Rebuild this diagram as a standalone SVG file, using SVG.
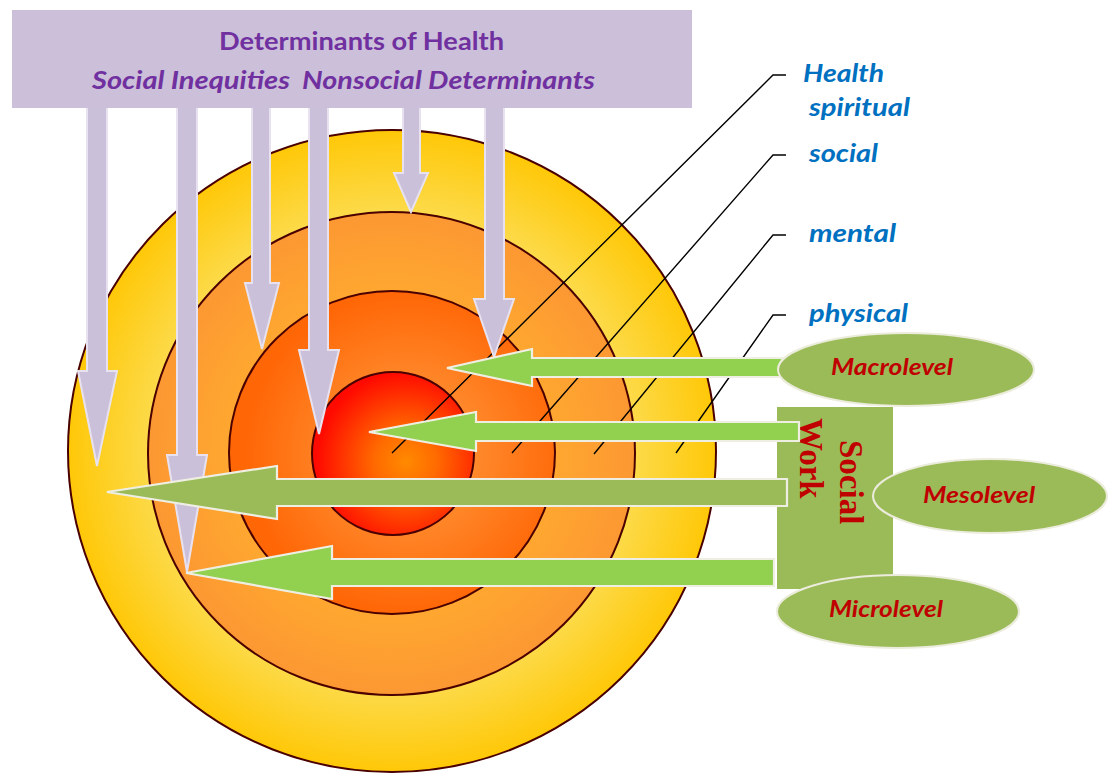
<svg xmlns="http://www.w3.org/2000/svg" width="1112" height="773" viewBox="0 0 1112 773">
<defs>
<radialGradient id="gOuter" cx="0.5" cy="0.5" r="0.5">
<stop offset="0" stop-color="#FDE060"/>
<stop offset="0.72" stop-color="#FCDC50"/>
<stop offset="1" stop-color="#FFC808"/>
</radialGradient>
<radialGradient id="gSecond" cx="0.5" cy="0.5" r="0.5">
<stop offset="0.6" stop-color="#FFAA30"/>
<stop offset="1" stop-color="#FC9832"/>
</radialGradient>
<radialGradient id="gThird" cx="0.55" cy="0.5" r="0.5">
<stop offset="0.4" stop-color="#FF8A2C"/>
<stop offset="1" stop-color="#FF6606"/>
</radialGradient>
<radialGradient id="gInner" cx="0.58" cy="0.55" r="0.55">
<stop offset="0" stop-color="#FF8A00"/>
<stop offset="0.35" stop-color="#FF6A00"/>
<stop offset="1" stop-color="#FF0A00"/>
</radialGradient>
<style>
.ring{stroke:#4A0000;stroke-width:2}
.lav{fill:#CBC0DA;stroke:#E8E2F0;stroke-width:2}
.lg{fill:#92D050;stroke:#EEEEE2;stroke-width:2.2}
.og{fill:#9BBB59;stroke:#EEEEE2;stroke-width:2.2}
.lvl{fill:#9BBB59;stroke:#ECECDC;stroke-width:2}
.ln{fill:none;stroke:#000;stroke-width:1.4}
.ttl{font-family:Lato,"Open Sans","Liberation Sans",sans-serif;font-weight:bold;fill:#7030A0;font-size:25px}
.blue{font-family:Lato,"Open Sans","Liberation Sans",sans-serif;font-weight:bold;font-style:italic;fill:#0070C0;font-size:25px}
.red{font-family:Lato,"Open Sans","Liberation Sans",sans-serif;font-weight:bold;font-style:italic;fill:#C00000;font-size:23px}
.sw{font-family:"Liberation Serif","Times New Roman",serif;font-weight:bold;fill:#C00000;font-size:33px}
</style>
</defs>
<rect width="1112" height="773" fill="#FFFFFF"/>
<g id="circles">
<ellipse id="ring-outer" class="ring" cx="392" cy="451" rx="324" ry="321" fill="url(#gOuter)"/>
<ellipse id="ring-second" class="ring" cx="391.5" cy="453.5" rx="243.5" ry="241.5" fill="url(#gSecond)"/>
<ellipse id="ring-third" class="ring" cx="392" cy="452.5" rx="163" ry="161.5" fill="url(#gThird)"/>
<ellipse id="ring-inner" class="ring" cx="393" cy="453.5" rx="81" ry="81.5" fill="url(#gInner)"/>
</g>
<g id="connectors">
<polyline class="ln" points="392,453 773,75 786,75"/>
<polyline class="ln" points="512,453 773,155 786,155"/>
<polyline class="ln" points="594,454 773,235 786,235"/>
<polyline class="ln" points="676,453 773,315 786,315"/>
</g>
<g id="down-arrows">
<path class="lav" d="M87,106 L107,106 L107,371 L117,371 L97,466 L78,371 L87,371 Z"/>
<path class="lav" d="M177,106 L197,106 L197,455 L207,455 L187,572 L167,455 L177,455 Z"/>
<path class="lav" d="M252,106 L270,106 L270,283 L279,283 L262,349 L245,283 L252,283 Z"/>
<path class="lav" d="M309,106 L328,106 L328,350 L339,350 L319,434 L299,350 L309,350 Z"/>
<path class="lav" d="M403,106 L420,106 L420,173 L428,173 L411,212 L394,173 L403,173 Z"/>
<path class="lav" d="M485,106 L504,106 L504,299 L514,299 L494,357 L474,299 L485,299 Z"/>
</g>
<g id="banner">
<rect x="12" y="10" width="680" height="98" fill="#CBBFD9"/>
<text class="ttl" x="219" y="50" textLength="285" lengthAdjust="spacingAndGlyphs">Determinants of Health</text>
<text class="ttl" x="92" y="89" font-style="italic" textLength="198" lengthAdjust="spacingAndGlyphs">Social Inequities</text>
<text class="ttl" x="302" y="89" font-style="italic" textLength="293" lengthAdjust="spacingAndGlyphs">Nonsocial Determinants</text>
</g>
<g id="social-work">
<rect x="777" y="407" width="116" height="182" fill="#9BBB59"/>
<text class="sw" transform="translate(840,440) rotate(90)">Social</text>
<text class="sw" transform="translate(800,418) rotate(90)">Work</text>
</g>
<g id="green-arrows">
<path class="lg" d="M447,368 L532,349 L532,358 L782,358 L782,377 L532,377 L532,386 Z"/>
<path class="lg" d="M369,432 L476,412 L476,422 L799,422 L799,441 L476,441 L476,451 Z"/>
<path class="og" d="M107,492 L277,466 L277,479 L787,479 L787,506 L277,506 L277,519 Z"/>
<path class="lg" d="M186,573 L332,546 L332,559 L774,559 L774,586 L332,586 L332,599 Z"/>
</g>
<g id="macrolevel">
<ellipse class="lvl" cx="906" cy="369.5" rx="128" ry="36.5"/>
<text class="red" x="831" y="375" textLength="122" lengthAdjust="spacingAndGlyphs">Macrolevel</text>
</g>
<g id="mesolevel">
<ellipse class="lvl" cx="990" cy="496" rx="117" ry="37"/>
<text class="red" x="923" y="503" textLength="112" lengthAdjust="spacingAndGlyphs">Mesolevel</text>
</g>
<g id="microlevel">
<ellipse class="lvl" cx="898" cy="611.5" rx="121" ry="36.5"/>
<text class="red" x="829" y="617" textLength="114" lengthAdjust="spacingAndGlyphs">Microlevel</text>
</g>
<g id="health-labels">
<text class="blue" x="803" y="82" textLength="81" lengthAdjust="spacingAndGlyphs">Health</text>
<text class="blue" x="809" y="116" textLength="101" lengthAdjust="spacingAndGlyphs">spiritual</text>
<text class="blue" x="809" y="162" textLength="69" lengthAdjust="spacingAndGlyphs">social</text>
<text class="blue" x="809" y="242" textLength="87" lengthAdjust="spacingAndGlyphs">mental</text>
<text class="blue" x="809" y="322" textLength="99" lengthAdjust="spacingAndGlyphs">physical</text>
</g>
</svg>
